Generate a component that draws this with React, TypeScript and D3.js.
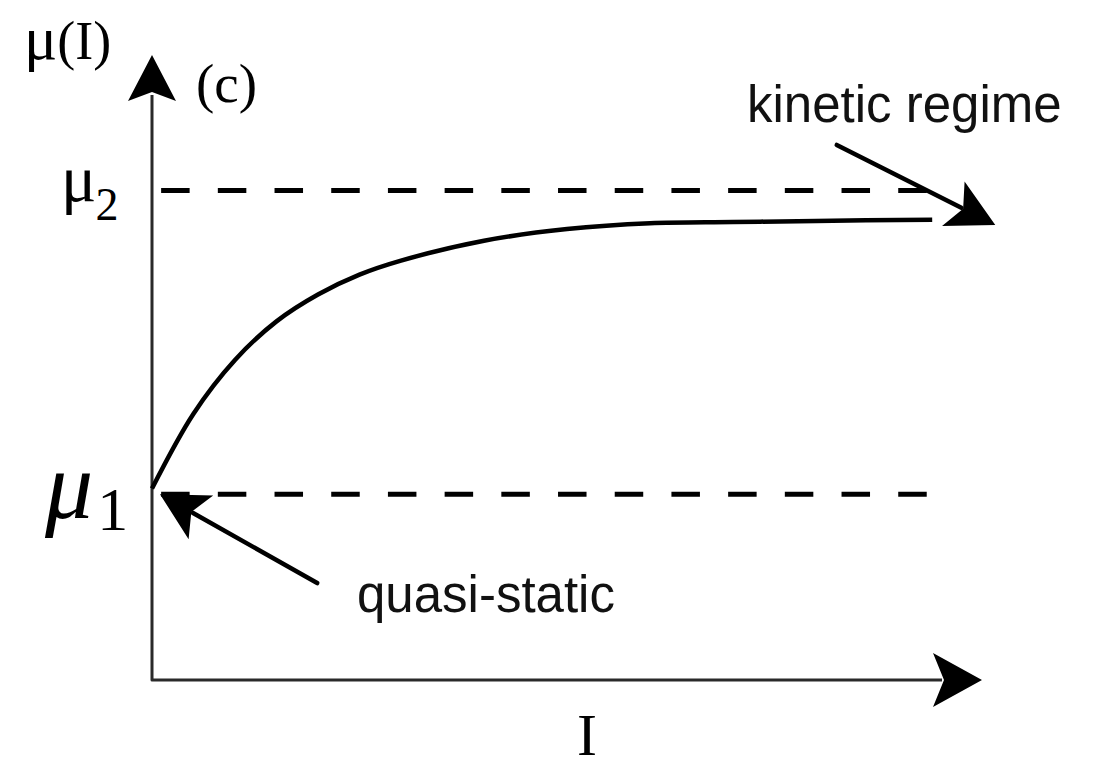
import React from "react";
import * as d3 from "d3";

// μ(I) friction law: sketch of the curve between the quasi-static and kinetic limits
const I_VALUES = [0, 0.5, 1, 1.5, 2, 2.5, 3, 4, 5, 6, 7, 8, 9.4];
const MU_VALUES = [0.385, 0.449, 0.495, 0.528, 0.551, 0.568, 0.58, 0.597, 0.607, 0.612, 0.613, 0.614, 0.615];

// limiting friction coefficients
const MU_1 = 0.38;
const MU_2 = 0.64;

// axis extents (data units)
const I_DOMAIN = [0, 10];
const MU_DOMAIN = [0.221, 0.756];

// dashed reference lines span
const DASH_I = [0.11, 9.43];

// annotation arrows: [I, μ] of tail and tip
const KINETIC_ARROW = [[8.25, 0.679], [10.16, 0.6105]];
const QUASI_ARROW = [[1.99, 0.304], [0.096, 0.38]];

const W = 1094;
const H = 768;

const SERIF = '"Liberation Serif", "Times New Roman", Times, serif';
const SANS = '"Liberation Sans", Arial, Helvetica, sans-serif';

function arrowHead(tx: number, ty: number, angle: number, len = 47, half = 25, notch = 11) {
  const dx = Math.cos(angle);
  const dy = Math.sin(angle);
  const px = -dy;
  const py = dx;
  const bx = tx - len * dx;
  const by = ty - len * dy;
  const nx = tx - (len - notch) * dx;
  const ny = ty - (len - notch) * dy;
  return `M${tx},${ty}L${bx + half * px},${by + half * py}L${nx},${ny}L${bx - half * px},${by - half * py}Z`;
}

export default function App() {
  const x = d3.scaleLinear().domain(I_DOMAIN).range([152, 982]);
  const y = d3.scaleLinear().domain(MU_DOMAIN).range([680, 55]);

  const pts: [number, number][] = I_VALUES.map((v, i) => [v, MU_VALUES[i]]);
  const line = d3
    .line<[number, number]>()
    .x((d) => x(d[0]))
    .y((d) => y(d[1]))
    .curve(d3.curveCatmullRom.alpha(0.5));

  const x0 = x(I_DOMAIN[0]);
  const y0 = y(MU_DOMAIN[0]);
  const xTip = x(I_DOMAIN[1]);
  const yTip = y(MU_DOMAIN[1]);

  const annot = (a: number[][]) => {
    const [t, h] = a;
    const x1 = x(t[0]);
    const y1 = y(t[1]);
    const x2 = x(h[0]);
    const y2 = y(h[1]);
    const ang = Math.atan2(y2 - y1, x2 - x1);
    const ex = x2 - 38 * Math.cos(ang);
    const ey = y2 - 38 * Math.sin(ang);
    return (
      <g>
        <line x1={x1} y1={y1} x2={ex} y2={ey} stroke="#000" strokeWidth={4.5} strokeLinecap="round" />
        <path d={arrowHead(x2, y2, ang)} fill="#000" />
      </g>
    );
  };

  return (
    <svg
      width={W}
      height={H}
      viewBox={`0 0 ${W} ${H}`}
      style={{ position: "absolute", left: 0, top: 0, background: "#fff" }}
    >
      {/* dashed limits μ1 and μ2 */}
      {[MU_2, MU_1].map((m) => (
        <line
          key={m}
          x1={x(DASH_I[0])}
          x2={x(DASH_I[1])}
          y1={y(m)}
          y2={y(m)}
          stroke="#000"
          strokeWidth={5}
          strokeDasharray="28.5,28.2"
        />
      ))}

      {/* axes */}
      <path
        d={`M${x0},${yTip + 40}L${x0},${y0}L${xTip - 40},${y0}`}
        fill="none"
        stroke="#2a2a2a"
        strokeWidth={3}
        strokeLinejoin="round"
      />
      <path d={arrowHead(x0, yTip, -Math.PI / 2, 46, 24, 9)} fill="#000" />
      <path d={arrowHead(xTip, y0, 0, 49, 27, 11)} fill="#000" />

      {/* μ(I) curve */}
      <path d={line(pts) ?? ""} fill="none" stroke="#000" strokeWidth={4.5} />

      {/* annotation arrows */}
      {annot(KINETIC_ARROW)}
      {annot(QUASI_ARROW)}

      {/* labels */}
      <text x={24} y={59} fontFamily={SERIF} fontSize={54}>
        <tspan fontSize={62}>μ</tspan>
        <tspan dx={0}>(I)</tspan>
      </text>
      <text x={196} y={102} fontFamily={SERIF} fontSize={55}>
        (c)
      </text>
      <text x={61} y={201} fontFamily={SERIF} fontSize={66}>
        μ
        <tspan fontSize={46} dy={19} dx={-1}>
          2
        </tspan>
      </text>
      <text x={45} y={518} fontFamily={SERIF} fontSize={96} fontStyle="italic">
        μ
        <tspan fontStyle="normal" fontSize={62} dy={12} dx={4}>
          1
        </tspan>
      </text>
      <text x={587} y={755} fontFamily={SERIF} fontSize={60} textAnchor="middle">
        I
      </text>
      <text x={747} y={122} fontFamily={SANS} fontSize={51} fill="#111">
        kinetic regime
      </text>
      <text x={357} y={612} fontFamily={SANS} fontSize={51} fill="#111">
        quasi-static
      </text>
    </svg>
  );
}
